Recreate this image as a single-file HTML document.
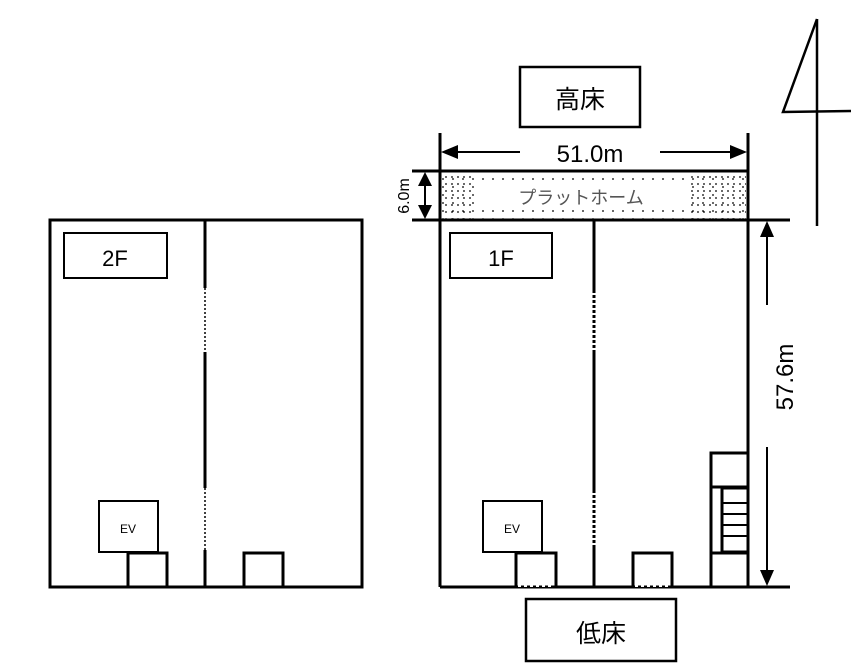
<!DOCTYPE html>
<html><head><meta charset="utf-8"><style>body{margin:0;background:#fff}svg{display:block}</style></head><body>
<svg width="861" height="663" viewBox="0 0 861 663" xmlns="http://www.w3.org/2000/svg" font-family="Liberation Sans, Noto Sans CJK JP, sans-serif">
<defs>
<pattern id="dots" width="10" height="8" patternUnits="userSpaceOnUse"><circle cx="3" cy="3" r="0.9" fill="#000"/></pattern>
<pattern id="dots2" width="6" height="7" patternUnits="userSpaceOnUse"><circle cx="2" cy="2" r="0.9" fill="#000"/></pattern>
</defs>
<g stroke="#000" fill="none" stroke-width="3">
<polyline points="817,19 817,226" stroke-width="2.5"/>
<polyline points="817,19 783,112 851,111" stroke-width="2.5"/>
<rect x="50" y="220" width="312" height="367"/>
<line x1="205" y1="220" x2="205" y2="288"/><line x1="205" y1="352" x2="205" y2="488"/><line x1="205" y1="550" x2="205" y2="587"/>
<line x1="205" y1="288" x2="205" y2="352" stroke-width="1.5" stroke-dasharray="2,2"/>
<line x1="205" y1="488" x2="205" y2="550" stroke-width="1.5" stroke-dasharray="2,2"/>
<rect x="64" y="233" width="103" height="45" stroke-width="2"/>
<rect x="99" y="501" width="59" height="51" stroke-width="2"/>
<rect x="128" y="553" width="39" height="34"/>
<rect x="244" y="553" width="39" height="34"/>
<rect x="440" y="172" width="308" height="48" fill="url(#dots)" stroke="none"/>
<rect x="443" y="172" width="32" height="48" fill="url(#dots2)" stroke="none"/>
<rect x="688" y="172" width="58" height="48" fill="url(#dots2)" stroke="none"/>
<rect x="475" y="180" width="213" height="30" fill="#fff" stroke="none"/>
<line x1="440" y1="133" x2="440" y2="587"/><line x1="748" y1="133" x2="748" y2="587"/>
<line x1="412" y1="171" x2="748" y2="171"/>
<line x1="412" y1="220" x2="790" y2="220"/>
<line x1="440" y1="587" x2="790" y2="587"/>
<line x1="594" y1="220" x2="594" y2="290"/><line x1="594" y1="350" x2="594" y2="490"/><line x1="594" y1="545" x2="594" y2="587"/>
<line x1="594" y1="290" x2="594" y2="350" stroke-dasharray="3,2"/>
<line x1="594" y1="490" x2="594" y2="545" stroke-dasharray="3,2"/>
<rect x="450" y="233" width="102" height="45" stroke-width="2"/>
<rect x="483" y="501" width="59" height="51" stroke-width="2"/>
<polyline points="516,587 516,553 556,553 556,587"/>
<polyline points="633,587 633,553 672,553 672,587"/>
<line x1="518" y1="586" x2="554" y2="586" stroke="#fff" stroke-width="2" stroke-dasharray="3,3"/>
<line x1="635" y1="586" x2="670" y2="586" stroke="#fff" stroke-width="2" stroke-dasharray="3,3"/>
<rect x="711" y="453" width="37" height="134"/>
<line x1="711" y1="487" x2="748" y2="487"/><line x1="711" y1="553" x2="748" y2="553"/>
<rect x="722" y="488" width="26" height="64"/>
<g stroke-width="2"><line x1="722" y1="503" x2="748" y2="503"/><line x1="722" y1="514" x2="748" y2="514"/><line x1="722" y1="525" x2="748" y2="525"/><line x1="722" y1="536" x2="748" y2="536"/></g>
<line x1="455" y1="152" x2="520" y2="152" stroke-width="2"/><line x1="660" y1="152" x2="733" y2="152" stroke-width="2"/>
<line x1="425" y1="185" x2="425" y2="207" stroke-width="2"/>
<line x1="767" y1="235" x2="767" y2="305" stroke-width="2"/><line x1="767" y1="447" x2="767" y2="572" stroke-width="2"/>
<rect x="520" y="67" width="120" height="60" stroke-width="2.5"/>
<rect x="526" y="599" width="150" height="62" stroke-width="2.5"/>
</g>
<g fill="#000">
<polygon points="441,152 458,145 458,159"/><polygon points="747,152 730,145 730,159"/>
<polygon points="425,172 418,186 432,186"/><polygon points="425,219 418,205 432,205"/>
<polygon points="767,221 760,237 774,237"/><polygon points="767,586 760,570 774,570"/>
</g>
<g fill="#000" text-anchor="middle">
<text x="590" y="162" font-size="24">51.0m</text>
<text x="581" y="204" font-size="18" fill="#555">プラットホーム</text>
<text x="115" y="266" font-size="22">2F</text>
<text x="501" y="266" font-size="22">1F</text>
<text x="128" y="533" font-size="12">EV</text>
<text x="512" y="533" font-size="12">EV</text>
<text x="580" y="108" font-size="25">高床</text>
<text x="601" y="642" font-size="25">低床</text>
<text transform="translate(409,196) rotate(-90)" font-size="16">6.0m</text>
<text transform="translate(793,377) rotate(-90)" font-size="24">57.6m</text>
</g>
</svg>
</body></html>
